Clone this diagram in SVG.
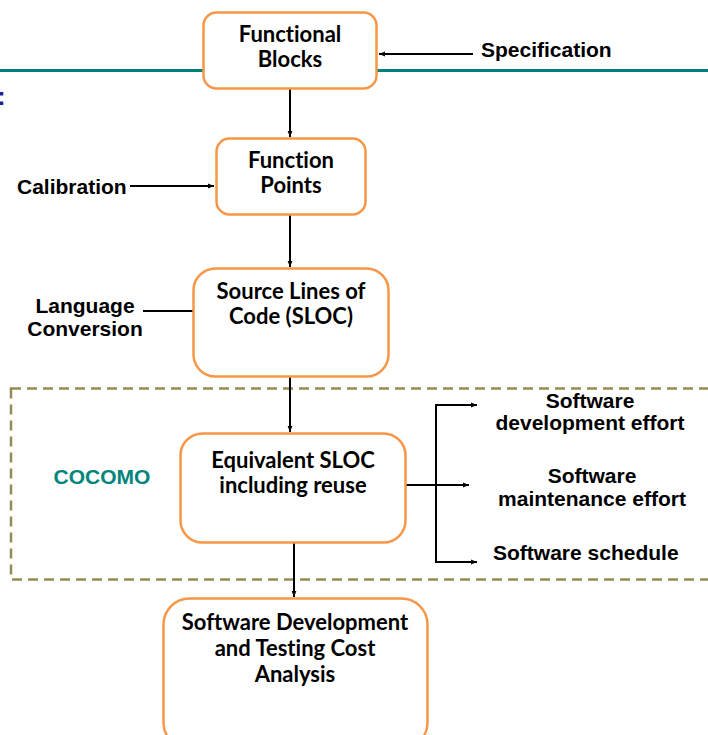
<svg xmlns="http://www.w3.org/2000/svg" width="708" height="735" viewBox="0 0 708 735">
<defs>
<marker id="ah" viewBox="0 0 10 10" refX="10" refY="5" markerWidth="6" markerHeight="6" orient="auto" markerUnits="userSpaceOnUse">
<path d="M0,1 L10,5 L0,9 Z" fill="#000"/>
</marker>
<style>
.box{fill:#fff;stroke:#f79646;stroke-width:2.5}
.bt{font-family:Lato,"Noto Sans",sans-serif;font-weight:bold;font-size:22px;fill:#000;text-anchor:middle;font-variant-ligatures:none;font-feature-settings:"liga" 0}
.lb{font-family:"Liberation Sans",Arial,sans-serif;font-weight:bold;font-size:21px;fill:#000}
.ln{stroke:#000;stroke-width:2;fill:none}
.ar{stroke:#000;stroke-width:2;fill:none;marker-end:url(#ah)}
</style>
</defs>
<rect width="708" height="735" fill="#fff"/>
<line x1="0" y1="70.5" x2="708" y2="70.5" stroke="#00827a" stroke-width="3"/>
<text x="-3" y="105" font-family="Liberation Sans,sans-serif" font-size="26" font-weight="bold" fill="#1f1f8f">:</text>
<rect id="cocomo" x="11" y="388.5" width="710" height="191" fill="none" stroke="#948a54" stroke-width="2.5" stroke-dasharray="10,6"/>
<text x="102" y="484" text-anchor="middle" font-family="Liberation Sans,sans-serif" font-weight="bold" font-size="21" fill="#00857c">COCOMO</text>
<g id="connectors">
<line class="ar" x1="473" y1="54" x2="379" y2="54"/>
<line class="ar" x1="290" y1="89" x2="290" y2="137"/>
<line class="ar" x1="130" y1="186" x2="214" y2="186"/>
<line class="ar" x1="290" y1="215" x2="290" y2="267"/>
<line class="ln" x1="143" y1="311" x2="193" y2="311"/>
<line class="ar" x1="290" y1="377" x2="290" y2="432"/>
<line class="ln" x1="406" y1="485" x2="436" y2="485" stroke-width="2.5"/>
<line class="ln" x1="436" y1="404" x2="436" y2="563"/>
<line class="ar" x1="435" y1="405" x2="477" y2="405"/>
<line class="ar" x1="436" y1="485" x2="469" y2="485"/>
<line class="ar" x1="435" y1="562" x2="477" y2="562"/>
<line class="ar" x1="294" y1="543" x2="294" y2="597"/>
</g>
<g id="functional-blocks">
<rect class="box" x="203.5" y="12.5" width="173" height="76" rx="13"/>
<text class="bt" x="290" y="42">Functional</text>
<text class="bt" x="290" y="67">Blocks</text>
</g>
<g id="specification"><text class="lb" x="481" y="57">Specification</text></g>
<g id="function-points">
<rect class="box" x="216.5" y="138.5" width="149" height="76" rx="13"/>
<text class="bt" x="291" y="168">Function</text>
<text class="bt" x="291" y="193">Points</text>
</g>
<g id="calibration"><text class="lb" x="17" y="194">Calibration</text></g>
<g id="sloc">
<rect class="box" x="193.5" y="268.5" width="195" height="108" rx="22"/>
<text class="bt" x="291" y="299">Source Lines of</text>
<text class="bt" x="291" y="324">Code (SLOC)</text>
</g>
<g id="language-conversion">
<text class="lb" x="85" y="313" text-anchor="middle">Language</text>
<text class="lb" x="85" y="336" text-anchor="middle">Conversion</text>
</g>
<g id="equivalent-sloc">
<rect class="box" x="180.5" y="433.5" width="225" height="109" rx="22"/>
<text class="bt" x="293" y="468">Equivalent SLOC</text>
<text class="bt" x="293" y="493">including reuse</text>
</g>
<g id="out-dev">
<text class="lb" x="590" y="408" text-anchor="middle">Software</text>
<text class="lb" x="590" y="430" text-anchor="middle">development effort</text>
</g>
<g id="out-maint">
<text class="lb" x="592" y="483" text-anchor="middle">Software</text>
<text class="lb" x="592" y="506" text-anchor="middle">maintenance effort</text>
</g>
<g id="out-sched"><text class="lb" x="493" y="560">Software schedule</text></g>
<g id="cost-analysis">
<rect class="box" x="163.5" y="598.5" width="264" height="150" rx="26"/>
<text class="bt" x="295" y="630">Software Development</text>
<text class="bt" x="295" y="656">and Testing Cost</text>
<text class="bt" x="295" y="682">Analysis</text>
</g>
</svg>
